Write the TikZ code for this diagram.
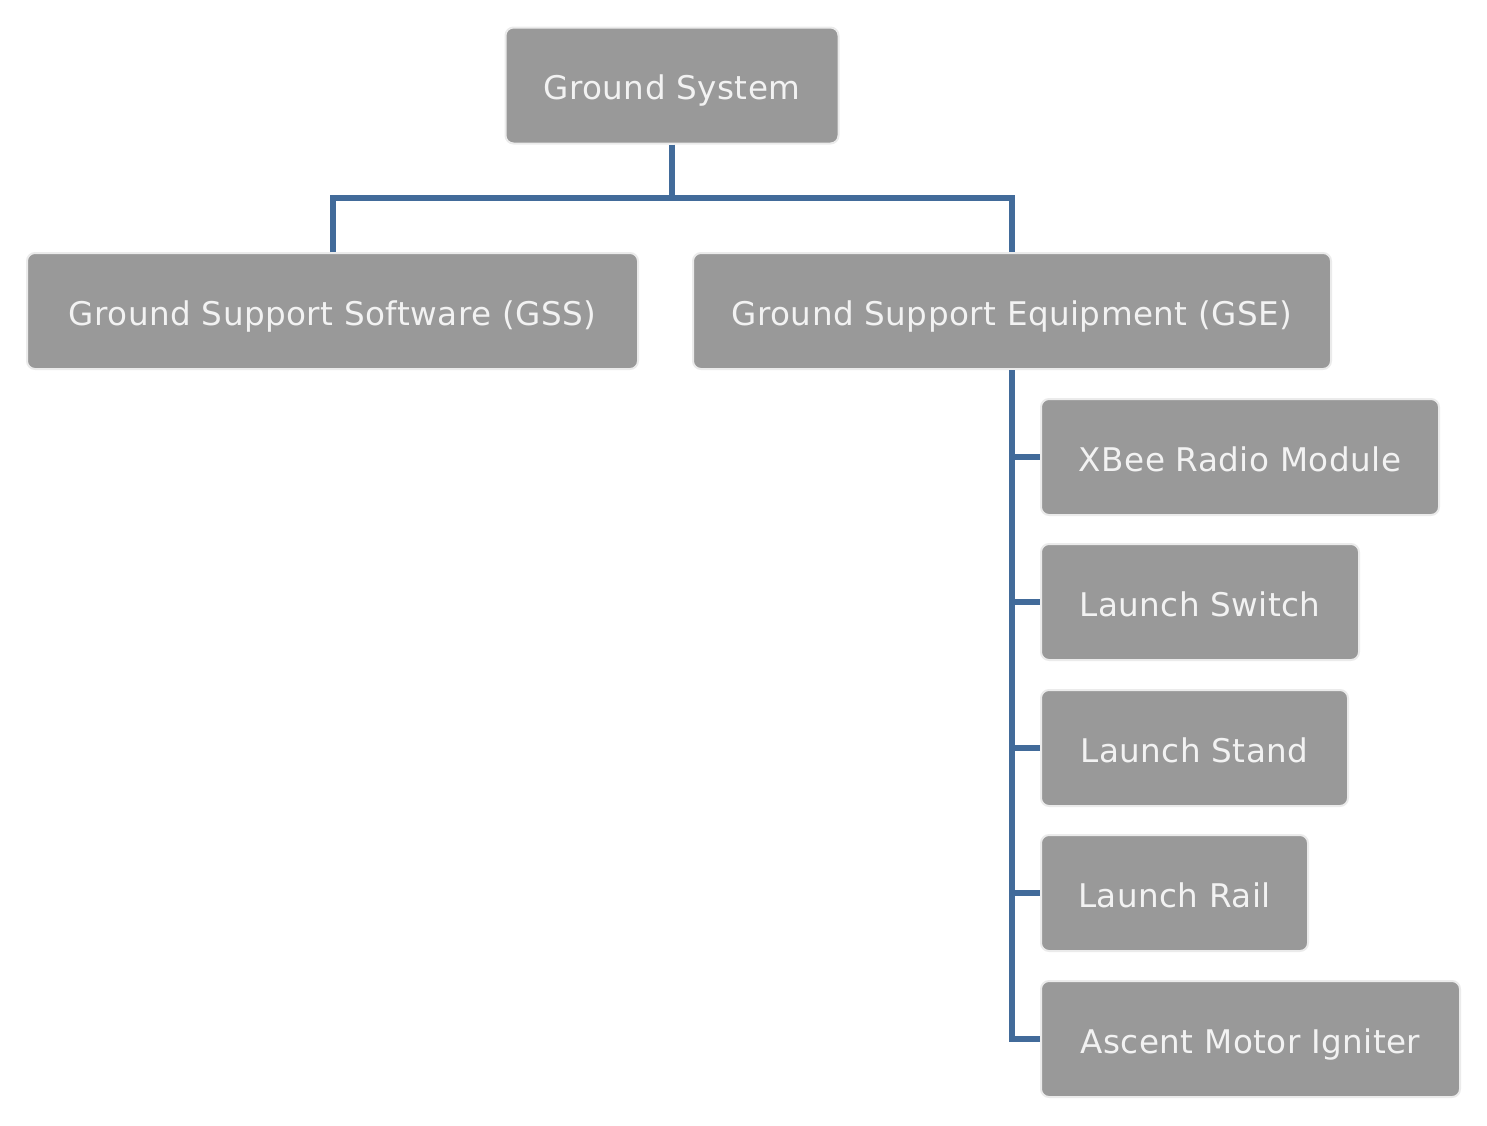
\documentclass[tikz,border=0pt]{standalone}
\usepackage{fontspec}
\setmainfont{DejaVu Sans}[LetterSpace=1.4]
\usetikzlibrary{calc}

\definecolor{boxgray}{HTML}{999999}
\definecolor{rimgray}{HTML}{EBEBEB}
\definecolor{txtgray}{HTML}{F2F2F2}
\definecolor{linkblue}{HTML}{426B9A}

\begin{document}
\begin{tikzpicture}[x=0.5pt, y=-0.5pt,
	blk/.style={draw=rimgray, fill=boxgray, line width=1pt, rounded corners=4pt,
		text=txtgray, font=\fontsize{16.3}{20}\selectfont, minimum height=58pt, inner sep=0pt,
		text height=14pt, text depth=0pt},
	link/.style={draw=linkblue, line width=3pt}]
	\useasboundingbox (0,0) rectangle (1487,1125);

	\node[blk, minimum width=166.5pt] (gs) at (672,85.5) {Ground System};
	\node[blk, minimum width=305.5pt] (gss) at (332.5,311) {Ground Support Software (GSS)};
	\node[blk, minimum width=319pt] (gse) at (1012,311) {Ground Support Equipment (GSE)};

	\node[blk, anchor=west, minimum width=199pt] (xbee) at (1040,457) {XBee Radio Module};
	\node[blk, anchor=west, minimum width=159pt] (switch) at (1040,602) {Launch Switch};
	\node[blk, anchor=west, minimum width=153.5pt] (stand) at (1040,748) {Launch Stand};
	\node[blk, anchor=west, minimum width=133.5pt] (rail) at (1040,893) {Launch Rail};
	\node[blk, anchor=west, minimum width=209.5pt] (igniter) at (1040,1039) {Ascent Motor Igniter};

	% tree lines
	\coordinate (bus) at (672,198);
	\draw[link] (gs.south) -- (bus);
	\draw[link] (gss.north) |- (bus) -| (gse.north);
	\draw[link] (gse.south) |- (igniter.west);
	\foreach \n in {xbee,switch,stand,rail}
		\draw[link] (\n.west -| gse.south) -- (\n.west);
\end{tikzpicture}
\end{document}
